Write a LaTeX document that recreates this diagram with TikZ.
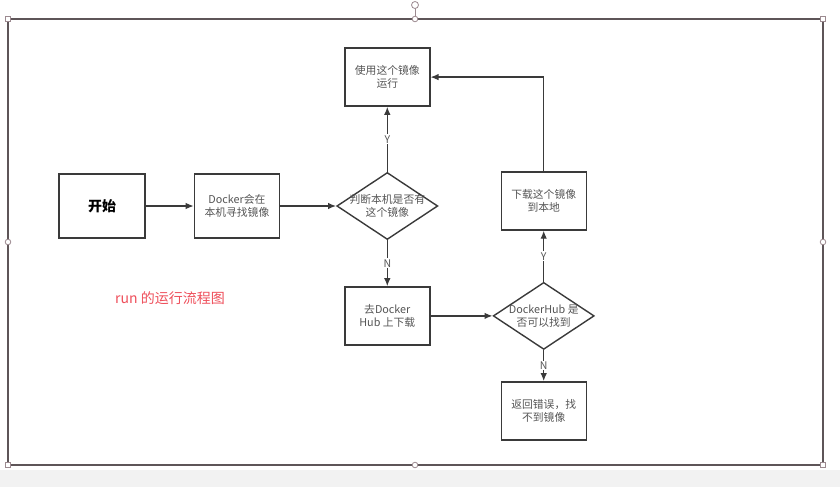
\documentclass[tikz,border=0pt]{standalone}
\usepackage{fontspec}
\setmainfont{Noto Sans CJK SC}
\usetikzlibrary{arrows.meta, positioning, shapes.geometric}
\definecolor{linegray}{HTML}{3A3A3A}
\definecolor{txtgray}{HTML}{555555}
\definecolor{runred}{HTML}{EE4E5A}
\definecolor{framegray}{HTML}{5E5558}
\definecolor{handle}{HTML}{9C8A90}

\begin{document}
\begin{tikzpicture}[
    x=1pt, y=-1pt,
    box/.style={draw=linegray, line width=1.4pt, minimum width=85pt, minimum height=58pt, inner sep=2pt, font=\fontsize{10.8}{13}\selectfont, text=txtgray, align=center},
    dec/.style={draw=linegray, line width=1.4pt, diamond, minimum width=101pt, minimum height=67pt, inner sep=0pt},
    dectext/.style={font=\fontsize{10.8}{13}\selectfont, text=txtgray, align=center},
    yn/.style={fill=white, inner sep=1pt, font=\fontsize{10.5}{12}\selectfont, text=txtgray},
    arr/.style={-{Latex[length=8pt,width=6.5pt]}, line width=1.3pt, draw=linegray}
]
\useasboundingbox (0,0) rectangle (840,487);
\fill[gray!10] (0,470) rectangle (840,487);
\draw[framegray, line width=1.4pt] (8,19) rectangle (823,465);
\foreach \hx/\hy in {8/19, 823/19, 8/465, 823/465}
    \draw[handle, fill=white, line width=0.8pt] (\hx-2.5,\hy-2.5) rectangle (\hx+2.5,\hy+2.5);
\draw[handle, line width=0.8pt] (415,8.5) -- (415,19);
\draw[handle, fill=white, line width=0.8pt] (415,5) circle (3.5);
\foreach \hx/\hy in {415/19, 8/242, 823/242, 415/465}
    \draw[handle, fill=white, line width=0.8pt] (\hx,\hy) circle (2.8);

\node[box, minimum width=86pt, minimum height=64pt, font=\fontsize{14}{16}\selectfont\bfseries, text=black] (start) at (102,206) {开始};
\node[box, minimum height=64pt, right=48pt of start] (find) {Docker会在\\本机寻找镜像};
\node[dec, right=56pt of find, label={[dectext]center:判断本机是否有\\这个镜像}] (local) {};
\node[box, above=65pt of local] (use) {使用这个镜像\\运行};
\node[box, below=46pt of local] (pull) {去Docker\\Hub 上下载};
\node[dec, right=62pt of pull, label={[dectext]center:DockerHub 是\\否可以找到}] (hub) {};
\node[box, below=31pt of hub] (err) {返回错误，找\\不到镜像};
\node[box, above=51pt of hub] (save) {下载这个镜像\\到本地};
\node[text=runred, font=\fontsize{14}{16}\selectfont] (title) at (170,298) {run 的运行流程图};

\draw[arr] (start) -- (find);
\draw[arr] (find) -- (local);
\draw[arr] (local) -- node[yn] {Y} (use);
\draw[arr] (local) -- node[yn] {N} (pull);
\draw[arr] (pull) -- (hub);
\draw[arr] (hub) -- node[yn] {N} (err);
\draw[arr] (hub) -- node[yn] {Y} (save);
\draw[arr] (save) |- (use);
\end{tikzpicture}
\end{document}
